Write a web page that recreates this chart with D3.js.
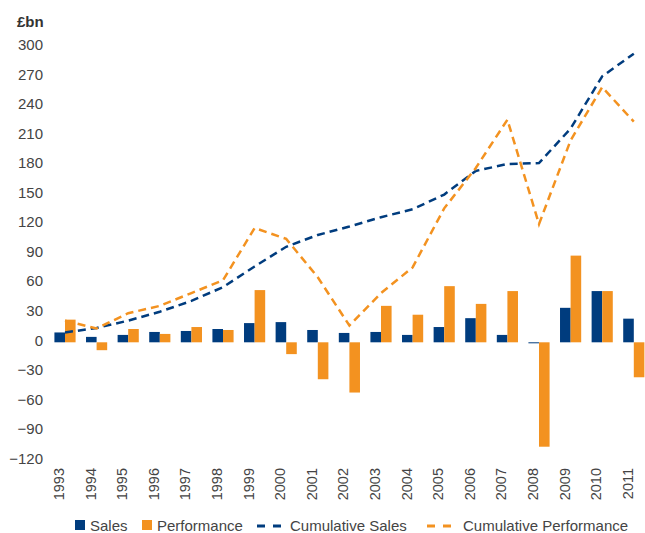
<!DOCTYPE html>
<html>
<head>
<meta charset="utf-8">
<script src="https://cdn.jsdelivr.net/npm/d3@7"></script>
<style>
  body { margin: 0; background: #fff; }
  text { font-family: "Liberation Sans", Arial, sans-serif; fill: #444; }
</style>
</head>
<body>
<script>
// Data
var years = ["1993", "1994", "1995", "1996", "1997", "1998", "1999", "2000", "2001", "2002",
             "2003", "2004", "2005", "2006", "2007", "2008", "2009", "2010", "2011"];
var sales = [10, 5.5, 7.5, 10.5, 11.5, 13.5, 19.5, 20.5, 12.5, 9.5,
             10.5, 7.5, 15.5, 24.5, 7.5, -1, 35, 52, 24];
var performance = [23, -8, 13.5, 8.5, 15.5, 12.5, 53, -12, -37.5, -51,
                   37, 28, 57, 39, 52, -106, 88, 52, -35.5];
var cumulativeSales = [10, 14.5, 22, 31, 42, 56, 77, 97, 109, 117.5,
                       127, 135, 150, 174, 181, 182, 217, 270, 293];
var cumulativePerformance = [22, 14, 29.5, 37, 50, 63, 116, 105, 66, 17,
                             50, 76, 136, 177, 226, 120, 205, 259, 224];
var yTicks = [300, 270, 240, 210, 180, 150, 120, 90, 60, 30, 0, -30, -60, -90, -120];

var navy = "#003c7e";
var orange = "#f39220";

var svgWidth = 645;
var svgHeight = 533;

var svg = d3.select("body")
  .append("svg")
  .attr("width", svgWidth)
  .attr("height", svgHeight);

// scales
var x0 = d3.scaleBand()
  .domain(years)
  .range([49.2, 649.6])
  .paddingInner(0.33)
  .paddingOuter(0.165);

var x1 = d3.scaleBand()
  .domain(["sales", "performance"])
  .range([0, x0.bandwidth()]);

var y = d3.scaleLinear()
  .domain([-120, 300])
  .range([460.5, 46.8]);

// y axis, labels only
var leftAxis = d3.axisLeft(y).tickValues(yTicks).tickSize(0).tickPadding(0);
var yAxis = svg.append("g")
  .attr("transform", "translate(43,0)")
  .call(leftAxis);
yAxis.select(".domain").remove();
yAxis.selectAll("text")
  .attr("dy", "0.18em")
  .style("font-size", "15px")
  .style("font-family", "'Liberation Sans', Arial, sans-serif")
  .attr("fill", "#444");

svg.append("text")
  .attr("x", 17)
  .attr("y", 27)
  .style("font-size", "15px")
  .style("font-weight", "bold")
  .style("fill", "#333")
  .text("£bn");

// x axis labels, rotated
var bottomAxis = d3.axisBottom(x0).tickSize(0).tickPadding(0);
var xAxis = svg.append("g")
  .attr("transform", "translate(0,468)")
  .call(bottomAxis);
xAxis.select(".domain").remove();
xAxis.selectAll("text")
  .attr("transform", "translate(-6,0) rotate(-90)")
  .attr("x", 0)
  .attr("y", 0)
  .attr("dy", "0.35em")
  .style("text-anchor", "end")
  .style("font-size", "14.5px")
  .style("font-family", "'Liberation Sans', Arial, sans-serif")
  .attr("fill", "#444");

// bars
var rows = years.map(function (yr, i) {
  return { year: yr, sales: sales[i], performance: performance[i] };
});

var groups = svg.append("g")
  .selectAll("g")
  .data(rows)
  .enter().append("g")
  .attr("transform", function (d) { return "translate(" + x0(d.year) + ",0)"; });

groups.selectAll("rect")
  .data(function (d) {
    return [{ key: "sales", value: d.sales }, { key: "performance", value: d.performance }];
  })
  .enter().append("rect")
  .attr("x", function (d) { return x1(d.key); })
  .attr("width", x1.bandwidth())
  .attr("y", function (d) { return y(Math.max(0, d.value)); })
  .attr("height", function (d) { return Math.max(1, Math.abs(y(d.value) - y(0))); })
  .attr("fill", function (d) { return d.key == "sales" ? navy : orange; });

// cumulative lines
var line = d3.line()
  .x(function (d, i) { return x0(years[i]) + x0.bandwidth() / 2; })
  .y(function (d) { return y(d); });

svg.append("path")
  .datum(cumulativeSales)
  .attr("d", line)
  .attr("fill", "none")
  .attr("stroke", navy)
  .attr("stroke-width", 2.5)
  .attr("stroke-dasharray", "8,5");

svg.append("path")
  .datum(cumulativePerformance)
  .attr("d", line)
  .attr("fill", "none")
  .attr("stroke", orange)
  .attr("stroke-width", 2.5)
  .attr("stroke-dasharray", "8,5");

// legend
var legend = svg.append("g").attr("transform", "translate(0,525)");

legend.append("rect").attr("x", 75).attr("y", -5).attr("width", 10).attr("height", 10).attr("fill", navy);
legend.append("text").attr("x", 90).attr("y", 5.5).style("font-size", "15px").text("Sales");

legend.append("rect").attr("x", 142).attr("y", -5).attr("width", 10).attr("height", 10).attr("fill", orange);
legend.append("text").attr("x", 157).attr("y", 5.5).style("font-size", "15px").text("Performance");

legend.append("line").attr("x1", 257).attr("x2", 283).attr("y1", 1).attr("y2", 1)
  .attr("stroke", navy).attr("stroke-width", 3).attr("stroke-dasharray", "8,8");
legend.append("text").attr("x", 290).attr("y", 5.5).style("font-size", "15px").text("Cumulative Sales");

legend.append("line").attr("x1", 427).attr("x2", 453).attr("y1", 1).attr("y2", 1)
  .attr("stroke", orange).attr("stroke-width", 3).attr("stroke-dasharray", "8,8");
legend.append("text").attr("x", 463).attr("y", 5.5).style("font-size", "15px").text("Cumulative Performance");
</script>
</body>
</html>
